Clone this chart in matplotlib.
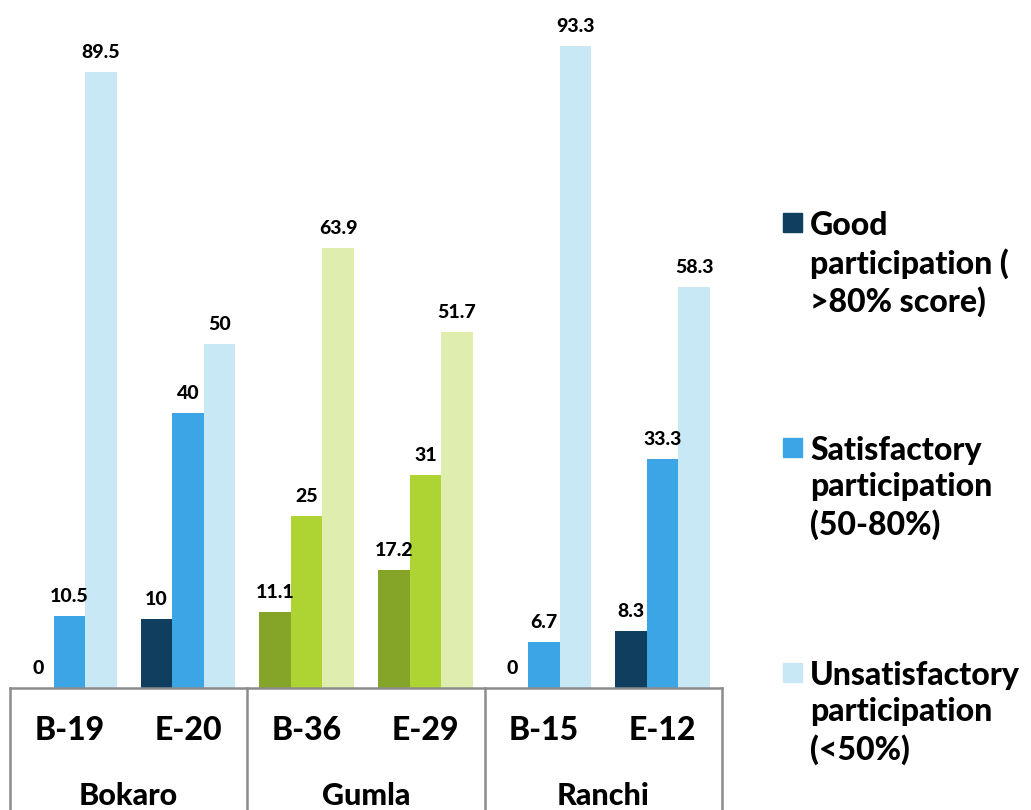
import matplotlib

matplotlib.use("Agg")
import matplotlib.pyplot as plt
import numpy as np
from matplotlib.patches import Rectangle

plt.rcParams.update(
    {
        "font.family": ["Lato", "DejaVu Sans"],
        "font.weight": "black",
        "figure.facecolor": "white",
        "axes.facecolor": "white",
    }
)

# Participation levels per batch, in percent.
districts = ["Bokaro", "Gumla", "Ranchi"]
batches = ["B-19", "E-20", "B-36", "E-29", "B-15", "E-12"]
good = [0, 10, 11.1, 17.2, 0, 8.3]
satisfactory = [10.5, 40, 25, 31, 6.7, 33.3]
unsatisfactory = [89.5, 50, 63.9, 51.7, 93.3, 58.3]

series_names = [
    "Good\nparticipation (\n>80% score)",
    "Satisfactory\nparticipation\n(50-80%)",
    "Unsatisfactory\nparticipation\n(<50%)",
]

BLUES = ["#0f3e5e", "#3ba5e6", "#c8e8f5"]
GREENS = ["#84a527", "#add432", "#dfeeae"]
# Gumla batches are drawn in the green palette
bar_colours = [BLUES, BLUES, GREENS, GREENS, BLUES, BLUES]
LINE = "#8c8c8c"
W = "black"

fig = plt.figure(figsize=(10.31, 8.10), dpi=100)
ax = fig.add_axes([10 / 1031, 122 / 810, 712 / 1031, 688 / 810])

x = np.arange(len(batches))
width = 0.266
for k, values in enumerate([good, satisfactory, unsatisfactory]):
    colours = [c[k] for c in bar_colours]
    bars = ax.bar(x + (k - 1) * width, values, width, color=colours, linewidth=0)
    ax.bar_label(bars, labels=[f"{v:g}" for v in values], padding=8,
                 fontsize=14, fontweight=W, color="black")

ax.set_xlim(-0.5, len(batches) - 0.5)
ax.set_ylim(0, 100)
for side in ("top", "right", "left", "bottom"):
    ax.spines[side].set_visible(False)
ax.set_xticks([])
ax.set_yticks([])

# two-level category box under the bars
trans = ax.get_xaxis_transform()
ax.plot([-0.5, len(batches) - 0.5], [0, 0], color=LINE, lw=1.8,
        transform=trans, clip_on=False)
for xv in [-0.5, 1.5, 3.5, 5.5]:
    ax.plot([xv, xv], [0, -0.2], color=LINE, lw=1.8, transform=trans,
            clip_on=False)
for i, name in enumerate(batches):
    ax.text(i, -0.062, name, transform=trans, ha="center", va="center",
            fontsize=23, fontweight=W)
for j, name in enumerate(districts):
    ax.text(2 * j + 0.5, -0.157, name, transform=trans, ha="center",
            va="center", fontsize=22, fontweight=W)

# legend: square swatch level with the first line of each label
for k, (name, colour) in enumerate(zip(series_names, BLUES)):
    top = 1 - (212 + 225 * k) / 810
    fig.patches.append(Rectangle((783 / 1031, top - 20 / 810), 19 / 1031, 19 / 810,
                                 transform=fig.transFigure, color=colour))
    fig.text(810 / 1031, top + 1 / 810, name, ha="left", va="top", fontsize=23,
             fontweight=W, linespacing=1.3)

fig.savefig("out.png")
